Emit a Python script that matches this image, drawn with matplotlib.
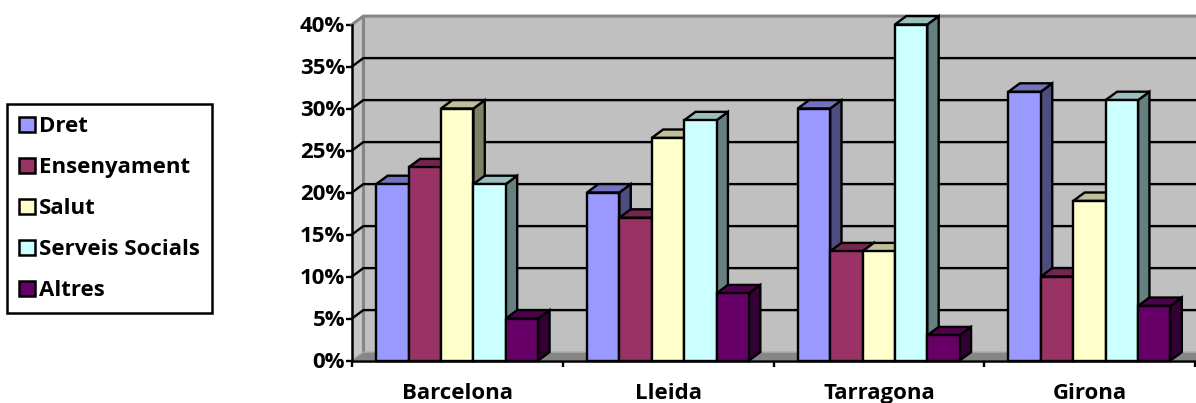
import matplotlib
matplotlib.use('Agg')
import matplotlib.pyplot as plt
from matplotlib.patches import Polygon, Patch
from matplotlib.ticker import FixedLocator, FixedFormatter

cities = ['Barcelona', 'Lleida', 'Tarragona', 'Girona']
series = ['Dret', 'Ensenyament', 'Salut', 'Serveis Socials', 'Altres']
dret = [21, 20, 30, 32]
ensenyament = [23, 17, 13, 10]
salut = [30, 26.5, 13, 19]
serveis = [21, 28.6, 40, 31]
altres = [5, 8, 3, 6.5]
values = [dret, ensenyament, salut, serveis, altres]

colors = ['#9999ff', '#993366', '#ffffcc', '#ccffff', '#660066']
top_colors = ['#7272bf', '#732650', '#bfbf99', '#99bfbf', '#4d004d']
side_colors = ['#4d4d80', '#4d1a33', '#808066', '#668080', '#330033']

yticks = [0, 5, 10, 15, 20, 25, 30, 35, 40]
ylabels = ['0%', '5%', '10%', '15%', '20%', '25%', '30%', '35%', '40%']

# fake 3d depth, in data units
DX = 0.054
DY = 1.0
BAR_W = 0.1537
GAP = 0.115
LW = 1.7

plt.rcParams['font.family'] = ['Open Sans', 'DejaVu Sans']
plt.rcParams['font.weight'] = 'bold'

W, H = 1196, 403
fig = plt.figure(figsize=(W / 100, H / 100), dpi=100)
ax = fig.add_axes([352 / W, (H - 360.5) / H, 843 / W, 336 / H])
ax.set_xlim(0, 4)
ax.set_ylim(0, 40)

# walls and floor
ax.add_patch(Polygon([(DX, DY), (4.2, DY), (4.2, 40 + DY), (DX, 40 + DY)],
                     fc='#c0c0c0', ec='none', clip_on=False, zorder=1))
ax.add_patch(Polygon([(0, 0), (DX, DY), (DX, 40 + DY), (0, 40)],
                     fc='#c6c6c6', ec='none', clip_on=False, zorder=1))
ax.add_patch(Polygon([(0, 0), (DX, DY), (4.2, DY), (4.2, 0)],
                     fc='#868686', ec='none', clip_on=False, zorder=1))
ax.plot([0, DX, 4.2], [40, 40 + DY, 40 + DY], color='#868686', lw=2.2, clip_on=False, zorder=2)
ax.plot([DX, DX], [DY, 40 + DY], color='#868686', lw=2.2, clip_on=False, zorder=2)
ax.plot([0, DX, 4.2], [0.1, DY, DY], color='#a8a8a8', lw=1, clip_on=False, zorder=2)

for v in yticks[1:-1]:
    ax.plot([0, DX, 4.2], [v, v + DY, v + DY], color='black', lw=1.7, clip_on=False, zorder=3)

z = 4
for i in range(len(series)):
    xs = [c + GAP + i * BAR_W for c in range(len(cities))]
    for x, v in zip(xs, values[i]):
        ax.add_patch(Polygon([(x + BAR_W, 0), (x + BAR_W + DX, DY), (x + BAR_W + DX, v + DY), (x + BAR_W, v)],
                             fc=side_colors[i], ec='black', lw=LW, joinstyle='miter', clip_on=False, zorder=z))
        ax.add_patch(Polygon([(x, v), (x + DX, v + DY), (x + BAR_W + DX, v + DY), (x + BAR_W, v)],
                             fc=top_colors[i], ec='black', lw=LW, joinstyle='miter', clip_on=False, zorder=z))
        ax.bar(x, v, BAR_W, align='edge', color=colors[i], edgecolor='black', lw=LW, clip_on=False, zorder=z + 0.5)
        z += 1

for s in ['top', 'right']:
    ax.spines[s].set_visible(False)
for s in ['left', 'bottom']:
    ax.spines[s].set_linewidth(1.8)
    ax.spines[s].set_zorder(200)

ax.set_yticks(yticks)
ax.set_yticklabels(ylabels)
ax.tick_params(axis='y', length=4, width=1.7, pad=1, labelsize=16)
ax.xaxis.set_major_locator(FixedLocator([0, 1, 2, 3, 4]))
ax.xaxis.set_major_formatter(FixedFormatter(['', '', '', '', '']))
ax.xaxis.set_minor_locator(FixedLocator([0.5, 1.5, 2.5, 3.5]))
ax.xaxis.set_minor_formatter(FixedFormatter(cities))
ax.tick_params(axis='x', which='major', length=4, width=1.7)
ax.tick_params(axis='x', which='minor', length=0, pad=16.5, labelsize=16)

handles = [Patch(fc=colors[i], ec='black', lw=1.8, label=series[i]) for i in range(len(series))]
leg = fig.legend(handles=handles, loc='upper left', bbox_to_anchor=(7 / W, 1 - 104 / H),
                 borderaxespad=0, fontsize=16, handlelength=0.72, handleheight=0.72,
                 handletextpad=0.15, labelspacing=0.9, borderpad=0.55, fancybox=False,
                 edgecolor='black', framealpha=1)
leg.get_frame().set_linewidth(1.8)

fig.savefig('out.png', dpi=100, facecolor='white')
